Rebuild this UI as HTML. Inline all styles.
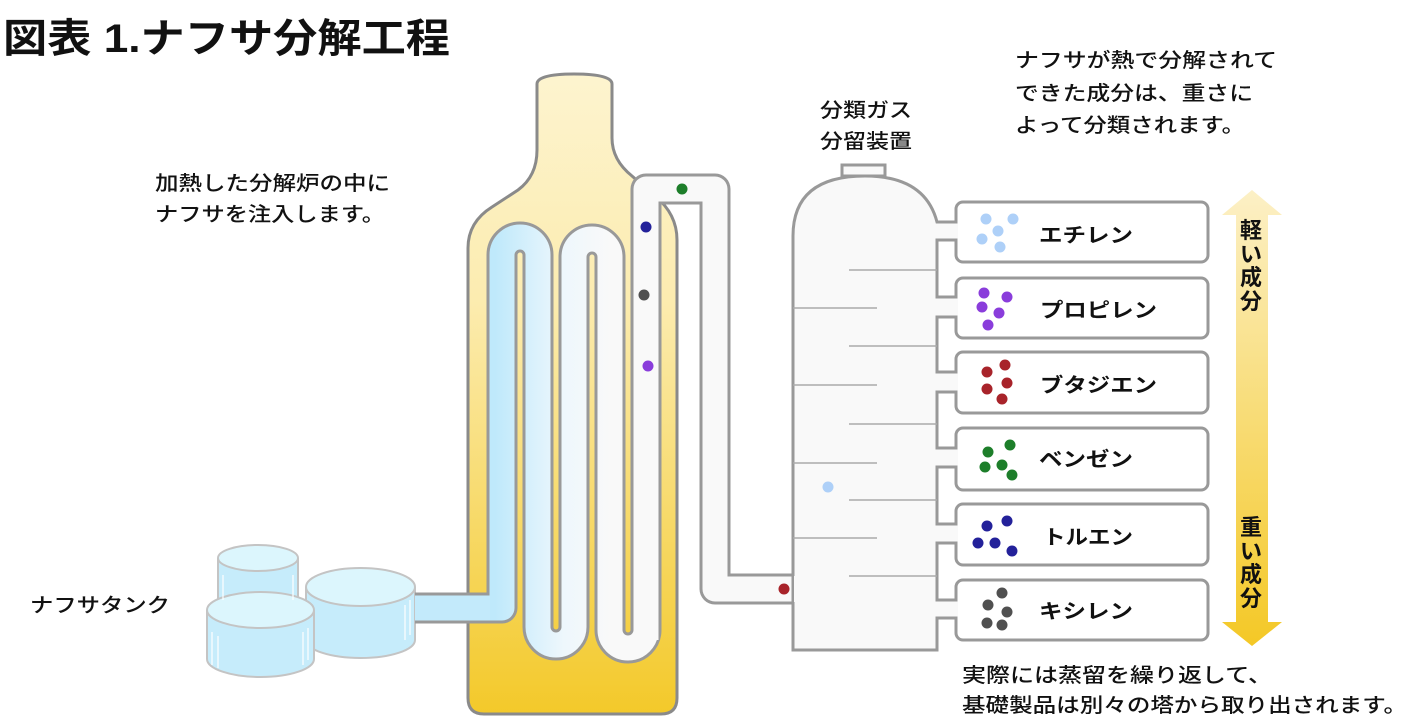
<!DOCTYPE html>
<html><head><meta charset="utf-8"><style>
html,body{margin:0;padding:0;background:#fff;}
svg{display:block;}
text{font-family:"Liberation Sans","Noto Sans CJK JP",sans-serif;fill:#111;}
</style></head><body>
<svg width="1418" height="725" viewBox="0 0 1418 725" xmlns="http://www.w3.org/2000/svg">
<defs>
<linearGradient id="furn" x1="0" y1="0" x2="0" y2="1">
<stop offset="0" stop-color="#fdf4cf"/><stop offset="0.35" stop-color="#fcecb0"/><stop offset="1" stop-color="#f3c92a"/></linearGradient>
<linearGradient id="tube" gradientUnits="userSpaceOnUse" x1="495" y1="0" x2="610" y2="0">
<stop offset="0" stop-color="#bfe9fb"/><stop offset="0.6" stop-color="#eef7fc"/><stop offset="1" stop-color="#f9f9f9"/></linearGradient>
<linearGradient id="arr" x1="0" y1="0" x2="0" y2="1">
<stop offset="0" stop-color="#fcf0c6"/><stop offset="1" stop-color="#f4c826"/></linearGradient>
</defs>

<!-- title -->
<text x="3" y="52" font-size="40" font-weight="700" textLength="447" lengthAdjust="spacingAndGlyphs">図表 1.ナフサ分解工程</text>

<!-- furnace -->
<path d="M537 84 Q537 74 574 74 Q612 74 612 84 V138 Q612 160 632 176 L655 196 Q677 214 677 240 V698 Q677 714 661 714 H484 Q468 714 468 698 V248 Q468 222 492 207 L518 190 Q537 176 537 150 Z" fill="url(#furn)" stroke="#8a8a8a" stroke-width="3"/>

<!-- tanks -->
<g stroke="#c4c4c4" stroke-width="2">
<path d="M218 558 V640 A40 12 0 0 0 298 640 V558" fill="#c6ecfb"/>
<ellipse cx="258" cy="558" rx="40" ry="13" fill="#dcf6fd"/>
<path d="M306 587 V640 A54.5 18 0 0 0 415 640 V587" fill="#c6ecfb"/>
<ellipse cx="360.5" cy="587" rx="54.5" ry="19" fill="#dcf6fd"/>
<path d="M207 610 V659 A53.5 18 0 0 0 314 659 V610" fill="#c6ecfb"/>
<ellipse cx="260.5" cy="610" rx="53.5" ry="18" fill="#dcf6fd"/>
</g>
<g stroke="#fff" stroke-width="1.5" opacity="0.8">
<line x1="223" y1="575" x2="223" y2="600"/><line x1="293" y1="575" x2="293" y2="600"/>
<line x1="212" y1="632" x2="212" y2="665"/><line x1="218" y1="636" x2="218" y2="668"/>
<line x1="303" y1="632" x2="303" y2="665"/><line x1="308" y1="628" x2="308" y2="660"/>
<line x1="405" y1="605" x2="405" y2="640"/><line x1="410" y1="600" x2="410" y2="635"/>
</g>

<!-- serpentine tube -->
<path d="M415 608 H502 V255 A18 18 0 0 1 538 255 V627 A18 18 0 0 0 574 627 V257 A18 18 0 0 1 610 257 V630 A18 18 0 0 0 646 630 V189 H715 V589 H795" fill="none" stroke="#999" stroke-width="31" stroke-linejoin="round"/>
<path d="M415 608 H502 V255 A18 18 0 0 1 538 255 V627 A18 18 0 0 0 574 627 V257 A18 18 0 0 1 610 257 V630 A18 18 0 0 0 646 630" fill="none" stroke="url(#tube)" stroke-width="25" stroke-linejoin="round"/>
<path d="M415 608 H490" fill="none" stroke="#c3eafb" stroke-width="25"/>
<path d="M646 640 V189 H715 V589 H797" fill="none" stroke="#f9f9f9" stroke-width="25" stroke-linejoin="round"/>

<!-- column -->
<path d="M793 650 V236 Q793 176 865 176 Q925 176 937 222 H956 V240 H937 V297 H956 V317 H937 V372 H956 V392 H937 V448 H956 V467 H937 V524 H956 V543 H937 V600 H956 V618 H937 V650 Z" fill="#f9f9f9" stroke="#999" stroke-width="3" stroke-linejoin="miter"/>
<rect x="842" y="165" width="43" height="11" fill="#f9f9f9" stroke="#999" stroke-width="3"/>
<rect x="794" y="576" width="6" height="26" fill="#f9f9f9"/>
<g stroke="#aaa" stroke-width="1.5">
<line x1="849" y1="270" x2="937" y2="270"/><line x1="793" y1="308" x2="877" y2="308"/>
<line x1="849" y1="346" x2="937" y2="346"/><line x1="793" y1="385" x2="877" y2="385"/>
<line x1="849" y1="424" x2="937" y2="424"/><line x1="793" y1="463" x2="877" y2="463"/>
<line x1="849" y1="500" x2="937" y2="500"/><line x1="793" y1="538" x2="877" y2="538"/>
<line x1="849" y1="576" x2="937" y2="576"/>
</g>

<!-- boxes -->
<g fill="#fff" stroke="#999" stroke-width="3">
<rect x="956" y="202" width="252" height="60" rx="7"/>
<rect x="956" y="278" width="252" height="60" rx="7"/>
<rect x="956" y="352" width="252" height="61" rx="7"/>
<rect x="956" y="428" width="252" height="62" rx="7"/>
<rect x="956" y="504" width="252" height="61" rx="7"/>
<rect x="956" y="580" width="252" height="60" rx="7"/>
</g>
<g fill="#f9f9f9">
<rect x="936" y="223.5" width="22" height="15"/><rect x="936" y="298.5" width="22" height="17"/>
<rect x="936" y="373.5" width="22" height="17"/><rect x="936" y="449.5" width="22" height="16"/>
<rect x="936" y="525.5" width="22" height="16"/><rect x="936" y="601.5" width="22" height="15"/>
</g>

<!-- dots -->
<g>
<circle cx="682" cy="189" r="5.5" fill="#1d7e2a"/><circle cx="646" cy="227" r="5.5" fill="#23219a"/>
<circle cx="644" cy="295" r="5.5" fill="#505050"/><circle cx="648" cy="366" r="5.5" fill="#8a3ddb"/>
<circle cx="784" cy="589" r="5.5" fill="#a8232a"/><circle cx="828" cy="487" r="5.5" fill="#aed0f8"/>
<g fill="#aed0f8"><circle cx="986" cy="219" r="5.5"/><circle cx="1013" cy="219" r="5.5"/><circle cx="998" cy="231" r="5.5"/><circle cx="982" cy="239" r="5.5"/><circle cx="1000" cy="247" r="5.5"/></g>
<g fill="#8a3ddb"><circle cx="984" cy="293" r="5.5"/><circle cx="1007" cy="297" r="5.5"/><circle cx="982" cy="307" r="5.5"/><circle cx="999" cy="313" r="5.5"/><circle cx="988" cy="325" r="5.5"/></g>
<g fill="#a8232a"><circle cx="1005" cy="365" r="5.5"/><circle cx="987" cy="372" r="5.5"/><circle cx="1007" cy="383" r="5.5"/><circle cx="987" cy="389" r="5.5"/><circle cx="1002" cy="399" r="5.5"/></g>
<g fill="#1d7e2a"><circle cx="1010" cy="445" r="5.5"/><circle cx="988" cy="452" r="5.5"/><circle cx="985" cy="467" r="5.5"/><circle cx="1002" cy="465" r="5.5"/><circle cx="1012" cy="475" r="5.5"/></g>
<g fill="#23219a"><circle cx="1007" cy="521" r="5.5"/><circle cx="987" cy="526" r="5.5"/><circle cx="978" cy="543" r="5.5"/><circle cx="995" cy="543" r="5.5"/><circle cx="1012" cy="551" r="5.5"/></g>
<g fill="#505050"><circle cx="1002" cy="593" r="5.5"/><circle cx="988" cy="605" r="5.5"/><circle cx="1007" cy="612" r="5.5"/><circle cx="987" cy="623" r="5.5"/><circle cx="1002" cy="625" r="5.5"/></g>
</g>

<!-- box labels -->
<g font-size="20" font-weight="700">
<text x="1039" y="242" textLength="94" lengthAdjust="spacingAndGlyphs">エチレン</text>
<text x="1040" y="317" textLength="117" lengthAdjust="spacingAndGlyphs">プロピレン</text>
<text x="1040" y="392" textLength="117" lengthAdjust="spacingAndGlyphs">ブタジエン</text>
<text x="1039" y="466" textLength="94" lengthAdjust="spacingAndGlyphs">ベンゼン</text>
<text x="1043" y="544" textLength="90" lengthAdjust="spacingAndGlyphs">トルエン</text>
<text x="1039" y="618" textLength="94" lengthAdjust="spacingAndGlyphs">キシレン</text>
</g>

<!-- arrow -->
<path d="M1252 190 L1282 215 H1268 V622 H1282 L1252 646 L1222 622 H1236 V215 H1222 Z" fill="url(#arr)"/>
<g font-size="22" font-weight="700" text-anchor="middle">
<text x="1251" y="238">軽</text><text x="1251" y="262">い</text><text x="1251" y="285">成</text><text x="1251" y="309">分</text>
<text x="1251" y="535">重</text><text x="1251" y="559">い</text><text x="1251" y="582">成</text><text x="1251" y="606">分</text>
</g>

<!-- texts -->
<g font-size="20" font-weight="500">
<text x="155" y="190" textLength="235" lengthAdjust="spacingAndGlyphs">加熱した分解炉の中に</text>
<text x="155" y="221" textLength="230" lengthAdjust="spacingAndGlyphs">ナフサを注入します。</text>
<text x="820" y="117" textLength="92" lengthAdjust="spacingAndGlyphs">分類ガス</text>
<text x="820" y="148" textLength="92" lengthAdjust="spacingAndGlyphs">分留装置</text>
<text x="1015" y="67" textLength="262" lengthAdjust="spacingAndGlyphs">ナフサが熱で分解されて</text>
<text x="1015" y="100" textLength="238" lengthAdjust="spacingAndGlyphs">できた成分は、重さに</text>
<text x="1015" y="132" textLength="230" lengthAdjust="spacingAndGlyphs">よって分類されます。</text>
<text x="30" y="612" textLength="140" lengthAdjust="spacingAndGlyphs">ナフサタンク</text>
<text x="962" y="682" textLength="310" lengthAdjust="spacingAndGlyphs">実際には蒸留を繰り返して、</text>
<text x="962" y="712" textLength="445" lengthAdjust="spacingAndGlyphs">基礎製品は別々の塔から取り出されます。</text>
</g>
</svg>
</body></html>
